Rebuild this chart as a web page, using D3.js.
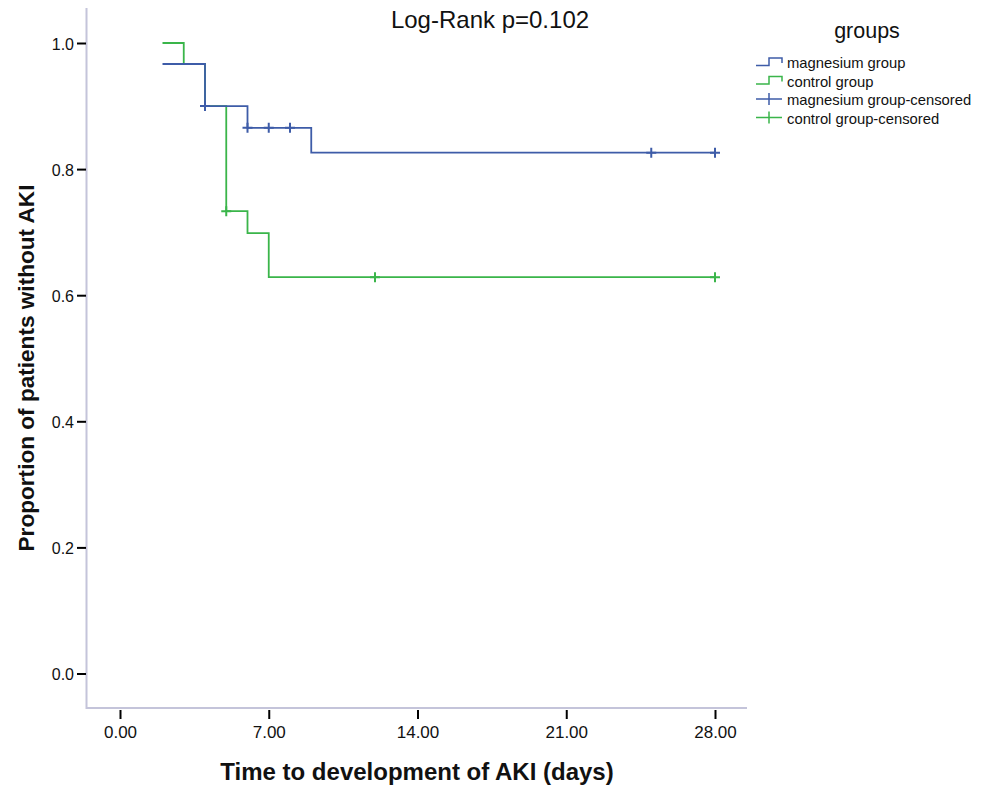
<!DOCTYPE html>
<html>
<head>
<meta charset="utf-8">
<script src="https://cdn.jsdelivr.net/npm/d3@7"></script>
<style>
  body { margin: 0; background: #fff; }
  text { font-family: "Liberation Sans", Arial, sans-serif; }
</style>
</head>
<body>
<svg id="chart" width="987" height="787"></svg>
<script>
// step curves (time in days, proportion without AKI)
const magTimes = [2, 4, 6, 9, 28]
const magSurv = [0.9667, 0.9, 0.8654, 0.8261, 0.8261]
const magCensored = [4, 6, 7, 8, 25, 28]

const ctlTimes = [2, 3, 4, 5, 6, 7, 28]
const ctlSurv = [1.0, 0.9667, 0.9, 0.7333, 0.6984, 0.6286, 0.6286]
const ctlCensored = [5, 12, 28]

const xTicks = [0, 7, 14, 21, 28]
const yTicks = [0, 0.2, 0.4, 0.6, 0.8, 1.0]
const groupNames = ['magnesium group', 'control group', 'magnesium group-censored', 'control group-censored']

const blue = '#3e5ca8'
const green = '#3ab54a'
const frameColor = '#c4c4da'
const font = '"Liberation Sans", Arial, sans-serif'

const svg = d3.select('#chart')

const x = d3.scaleLinear().domain([0, 28]).range([120, 715])
const y = d3.scaleLinear().domain([0, 1]).range([673.5, 43])

// frame (light axis lines)
svg.append('line').attr('x1', 86.5).attr('x2', 86.5).attr('y1', 8).attr('y2', 709)
  .attr('stroke', frameColor).attr('stroke-width', 2)
svg.append('line').attr('x1', 86).attr('x2', 747).attr('y1', 708).attr('y2', 708)
  .attr('stroke', frameColor).attr('stroke-width', 2)

// y axis
const yAxis = svg.append('g').attr('transform', 'translate(86,0)')
  .call(d3.axisLeft(y).tickValues(yTicks).tickFormat(d3.format('.1f')).tickSize(9).tickPadding(3))
yAxis.select('.domain').remove()
yAxis.selectAll('.tick line').attr('stroke', '#000').attr('stroke-width', 2)
yAxis.selectAll('.tick text').attr('font-size', 16).attr('fill', '#111')
  .attr('font-family', font).attr('dy', '0.4em')

// x axis
const xAxis = svg.append('g').attr('transform', 'translate(0,710)')
  .call(d3.axisBottom(x).tickValues(xTicks).tickFormat(d3.format('.2f')).tickSize(9).tickPadding(7))
xAxis.select('.domain').remove()
xAxis.selectAll('.tick line').attr('stroke', '#000').attr('stroke-width', 2)
xAxis.selectAll('.tick text').attr('font-size', 17).attr('fill', '#111')
  .attr('font-family', font)

// step lines
function stepData(times, surv) {
  return times.map((t, i) => ({ t: t, s: surv[i] }))
}
const line = d3.line().x(d => x(d.t)).y(d => y(d.s)).curve(d3.curveStepAfter)

svg.append('path').datum(stepData(ctlTimes, ctlSurv))
  .attr('d', line).attr('fill', 'none').attr('stroke', green).attr('stroke-width', 1.8)
svg.append('path').datum(stepData(magTimes, magSurv))
  .attr('d', line).attr('fill', 'none').attr('stroke', blue).attr('stroke-width', 1.8)

// value of step function at time t
function survAt(times, surv, t) {
  let v = surv[0]
  times.forEach((tt, i) => { if (tt <= t) v = surv[i] })
  return v
}

function drawCensor(times, surv, censored, color) {
  censored.forEach(t => {
    const cx = x(t), cy = y(survAt(times, surv, t))
    svg.append('path')
      .attr('d', `M${cx - 5},${cy}H${cx + 5}M${cx},${cy - 5}V${cy + 5}`)
      .attr('stroke', color).attr('stroke-width', 2).attr('fill', 'none')
  })
}
drawCensor(ctlTimes, ctlSurv, ctlCensored, green)
drawCensor(magTimes, magSurv, magCensored, blue)

// title
svg.append('text').attr('x', 490).attr('y', 28).attr('text-anchor', 'middle')
  .attr('font-size', 24).attr('fill', '#111').text('Log-Rank p=0.102')

// axis titles
svg.append('text').attr('x', 417).attr('y', 780).attr('text-anchor', 'middle')
  .attr('font-size', 24).attr('font-weight', 'bold').attr('fill', '#111')
  .text('Time to development of AKI (days)')
svg.append('text').attr('transform', 'translate(34,368) rotate(-90)').attr('text-anchor', 'middle')
  .attr('font-size', 22.6).attr('font-weight', 'bold').attr('fill', '#111')
  .text('Proportion of patients without AKI')

// legend
const legend = svg.append('g').attr('transform', 'translate(756,0)')
legend.append('text').attr('x', 111).attr('y', 38).attr('text-anchor', 'middle')
  .attr('font-size', 21.5).attr('fill', '#111').text('groups')

const legendColors = [blue, green, blue, green]
const rowY = [68, 86.5, 105, 123.5]
groupNames.forEach((name, i) => {
  const yy = rowY[i]
  if (i < 2) {
    legend.append('path')
      .attr('d', `M0,${yy - 2.5}H13V${yy - 10}H26V${yy - 5}`)
      .attr('stroke', legendColors[i]).attr('stroke-width', 1.5).attr('fill', 'none')
  } else {
    legend.append('path')
      .attr('d', `M0,${yy - 6}H26M13,${yy - 12}V${yy}`)
      .attr('stroke', legendColors[i]).attr('stroke-width', 1.5).attr('fill', 'none')
  }
  legend.append('text').attr('x', 31).attr('y', yy)
    .attr('font-size', 14.8).attr('fill', '#111').text(name)
})
</script>
</body>
</html>
